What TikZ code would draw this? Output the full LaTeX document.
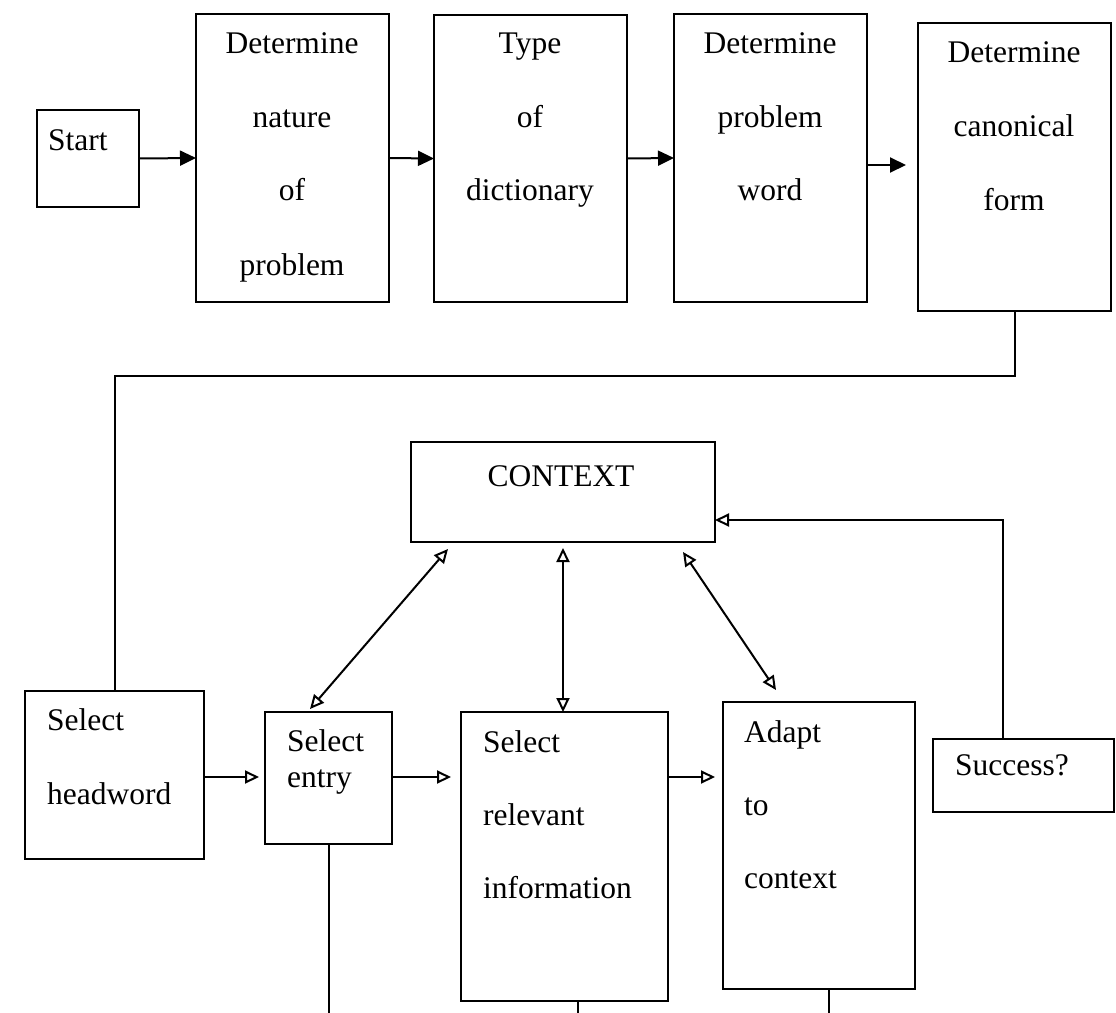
\documentclass[tikz,border=0pt]{standalone}
\usepackage{fontspec}
\setmainfont{Liberation Serif}
\usetikzlibrary{arrows.meta,calc}
\begin{document}
\begin{tikzpicture}[x=1pt,y=-1pt,
  box/.style={draw,line width=2pt,rectangle,anchor=north west,inner sep=0pt,outer sep=0pt},
  txt/.style={inner sep=0pt,font=\fontsize{31.5}{36}\selectfont},
  conn/.style={line width=2pt},
  filled/.style={conn,-{Triangle[length=16pt,width=15pt]}},
  open/.style={conn,-{Triangle[open,length=14pt,width=13pt,line width=2pt]}},
  openboth/.style={conn,{Triangle[open,length=14pt,width=13pt,line width=2pt]}-{Triangle[open,length=14pt,width=13pt,line width=2pt]}}]
\useasboundingbox (0,0) rectangle (1116,1012);
% top row boxes
\node[box,minimum width=102pt,minimum height=97pt] (start) at (37,110) {};
\node[box,minimum width=193pt,minimum height=288pt] (nat) at (196,14) {};
\node[box,minimum width=193pt,minimum height=287pt] (typ) at (434,15) {};
\node[box,minimum width=193pt,minimum height=288pt] (word) at (674,14) {};
\node[box,minimum width=193pt,minimum height=288pt] (canon) at (918,23) {};
% lower boxes
\node[box,minimum width=304pt,minimum height=100pt] (context) at (411,442) {};
\node[box,minimum width=179pt,minimum height=168pt] (head) at (25,691) {};
\node[box,minimum width=127pt,minimum height=132pt] (entry) at (265,712) {};
\node[box,minimum width=207pt,minimum height=289pt] (rel) at (461,712) {};
\node[box,minimum width=192pt,minimum height=287pt] (adapt) at (723,702) {};
\node[box,minimum width=181pt,minimum height=73pt] (succ) at (933,739) {};
% texts
\node[txt,anchor=base west] (t-start) at (48,150) {Start};
\node[txt,anchor=base] (t-nat1) at (292,53) {Determine};
\node[txt,anchor=base] (t-nat2) at (292,127) {nature};
\node[txt,anchor=base] (t-nat3) at (292,200) {of};
\node[txt,anchor=base] (t-nat4) at (292,275) {problem};
\node[txt,anchor=base] (t-typ1) at (530,53) {Type};
\node[txt,anchor=base] (t-typ2) at (530,127) {of};
\node[txt,anchor=base] (t-typ3) at (530,200) {dictionary};
\node[txt,anchor=base] (t-word1) at (770,53) {Determine};
\node[txt,anchor=base] (t-word2) at (770,127) {problem};
\node[txt,anchor=base] (t-word3) at (770,200) {word};
\node[txt,anchor=base] (t-can1) at (1014,62) {Determine};
\node[txt,anchor=base] (t-can2) at (1014,136) {canonical};
\node[txt,anchor=base] (t-can3) at (1014,210) {form};
\node[txt,anchor=base] (t-ctx) at (561,486) {CONTEXT};
\node[txt,anchor=base west] (t-head1) at (47,730) {Select};
\node[txt,anchor=base west] (t-head2) at (47,804) {headword};
\node[txt,anchor=base west] (t-ent1) at (287,751) {Select};
\node[txt,anchor=base west] (t-ent2) at (287,787) {entry};
\node[txt,anchor=base west] (t-rel1) at (483,752) {Select};
\node[txt,anchor=base west] (t-rel2) at (483,825) {relevant};
\node[txt,anchor=base west] (t-rel3) at (483,898) {information};
\node[txt,anchor=base west] (t-ad1) at (744,742) {Adapt};
\node[txt,anchor=base west] (t-ad2) at (744,815) {to};
\node[txt,anchor=base west] (t-ad3) at (744,888) {context};
\node[txt,anchor=base west] (t-succ) at (955,775) {Success?};
% helper coordinates
\coordinate (r5) at (0,165);
\coordinate (turn) at (0,376);
\coordinate (fb) at (0,520);
\coordinate (sx) at (1003,0);
\coordinate (bot) at (0,1014);
\coordinate (harr) at (0,777);
% top row connectors
\draw[filled] (start.east) -- (nat.west);
\draw[filled] (nat.east) -- (typ.west);
\draw[filled] (typ.east) -- (word.west);
\draw[filled,shorten >=12pt] (word.east |- r5) -- (canon.west |- r5);
\draw[conn] (canon.south) -- (canon.south |- turn) -- (head.north |- turn) -- (head.north);
% lower connectors
\draw[open,shorten >=6pt] (head.east |- harr) -- (entry.west |- harr);
\draw[open,shorten >=10pt] (entry.east |- harr) -- (rel.west |- harr);
\draw[open,shorten >=8pt] (rel.east |- harr) -- (adapt.west |- harr);
\draw[open] (succ.north -| sx) -- (sx |- fb) -- (context.east |- fb);
\draw[openboth] ([xshift=37pt,yshift=-7pt]context.south west) -- ([xshift=45pt,yshift=3pt]entry.north west);
\draw[openboth] ([yshift=-6pt]context.south) -- (context.south |- rel.north);
\draw[openboth] ([xshift=-32pt,yshift=-10pt]context.south east) -- ([xshift=53pt,yshift=12pt]adapt.north west);
\draw[conn] (entry.south) -- (entry.south |- bot);
\draw[conn] ([xshift=13pt]rel.south) -- ([xshift=13pt]rel.south |- bot);
\draw[conn] ([xshift=10pt]adapt.south) -- ([xshift=10pt]adapt.south |- bot);
\end{tikzpicture}
\end{document}
